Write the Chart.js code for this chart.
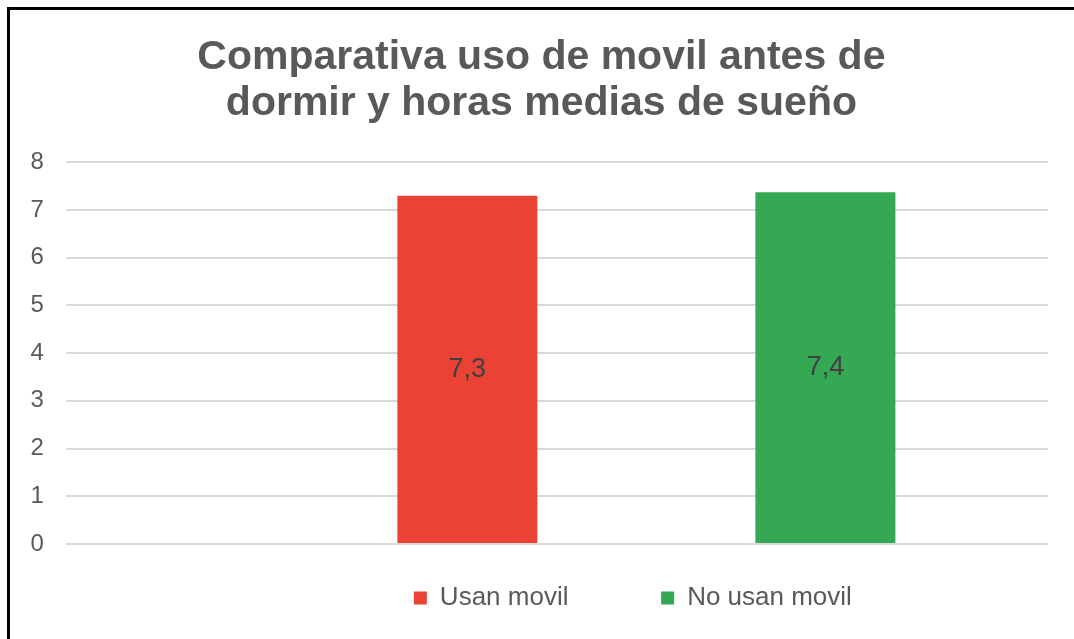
<!DOCTYPE html>
<html>
<head>
<meta charset="utf-8">
<script src="https://cdn.jsdelivr.net/npm/chart.js@4.4.1/dist/chart.umd.min.js"></script>
<style>
html, body { margin: 0; padding: 0; background: #ffffff; }
#wrap { position: relative; width: 1074px; height: 639px; overflow: hidden; background: #ffffff; }
#frame { position: absolute; left: 7px; top: 7px; right: 0; bottom: 0; border-left: 3px solid #000; border-top: 3px solid #000; pointer-events: none; }
canvas { display: block; }
</style>
</head>
<body>
<div id="wrap">
  <canvas id="chart" width="1074" height="639"></canvas>
  <div id="frame"></div>
</div>
<script>
// ---- data ----
const chartTitle = ['Comparativa uso de movil antes de', 'dormir y horas medias de sueño'];
const categories = [''];
const seriesNames = ['Usan movil', 'No usan movil'];
const usanMovil = [7.3];
const noUsanMovil = [7.37];
const seriesColors = ['#EA4335', '#34A853'];
const yTicks = { min: 0, max: 8, step: 1 };

// ---- helpers ----
const FONT = '"Liberation Sans", Arial, Helvetica, sans-serif';
Chart.defaults.font.family = FONT;

const spacer = () => ({
  label: '',
  isSpacer: true,
  data: categories.map(() => null),
  backgroundColor: 'rgba(0,0,0,0)',
  borderColor: 'rgba(0,0,0,0)',
  borderWidth: 0
});

const valueLabels = {
  id: 'valueLabels',
  afterDatasetsDraw(chart) {
    const ctx = chart.ctx;
    ctx.save();
    ctx.font = '27px ' + FONT;
    ctx.fillStyle = '#404040';
    ctx.textAlign = 'center';
    ctx.textBaseline = 'middle';
    chart.data.datasets.forEach((ds, di) => {
      if (ds.isSpacer) return;
      const meta = chart.getDatasetMeta(di);
      meta.data.forEach((bar, i) => {
        const v = ds.data[i];
        if (v == null) return;
        const p = bar.getProps(['x', 'y', 'base'], true);
        ctx.fillText(v.toFixed(1).replace('.', ','), p.x, (p.y + p.base) / 2);
      });
    });
    ctx.restore();
  }
};

// shifts the title and legend boxes horizontally after layout
const boxOffset = {
  id: 'boxOffset',
  afterLayout(chart, args, opts) {
    const lg = chart.legend;
    if (lg && opts.legendDx) { lg.left += opts.legendDx; lg.right += opts.legendDx; }
    const tb = chart.titleBlock;
    if (tb && opts.titleDx) { tb.left += opts.titleDx; tb.right += opts.titleDx; }
  }
};

new Chart(document.getElementById('chart'), {
  type: 'bar',
  data: {
    labels: categories,
    datasets: [
      spacer(),
      { label: seriesNames[0], data: usanMovil, backgroundColor: seriesColors[0], borderWidth: 0 },
      spacer(),
      { label: seriesNames[1], data: noUsanMovil, backgroundColor: seriesColors[1], borderWidth: 0 }
    ]
  },
  options: {
    responsive: false,
    animation: false,
    devicePixelRatio: 1,
    categoryPercentage: 0.729,
    barPercentage: 0.782,
    layout: { padding: { left: 8.4, right: 26, top: 0, bottom: 18 } },
    scales: {
      x: {
        grid: { display: true, drawOnChartArea: false, drawTicks: true, tickLength: 7.65, color: 'rgba(0,0,0,0)' },
        ticks: { display: false },
        border: { display: false }
      },
      y: {
        min: yTicks.min,
        max: yTicks.max,
        ticks: { stepSize: yTicks.step, padding: 22, color: '#595959', font: { size: 24 } },
        grid: { color: '#d9d9d9', lineWidth: 2, drawTicks: false },
        border: { display: false }
      }
    },
    plugins: {
      title: {
        display: true,
        text: chartTitle,
        color: '#595959',
        font: { size: 41, weight: 'bold', lineHeight: 1.134 },
        padding: { top: 34, bottom: 35.3 }
      },
      legend: {
        position: 'bottom',
        labels: { boxWidth: 13, boxHeight: 13, padding: 33.35, color: '#595959', font: { size: 26 } }
      },
      boxOffset: { legendDx: 75, titleDx: 13.2 },
      tooltip: { enabled: false }
    }
  },
  plugins: [valueLabels, boxOffset]
});
</script>
</body>
</html>
